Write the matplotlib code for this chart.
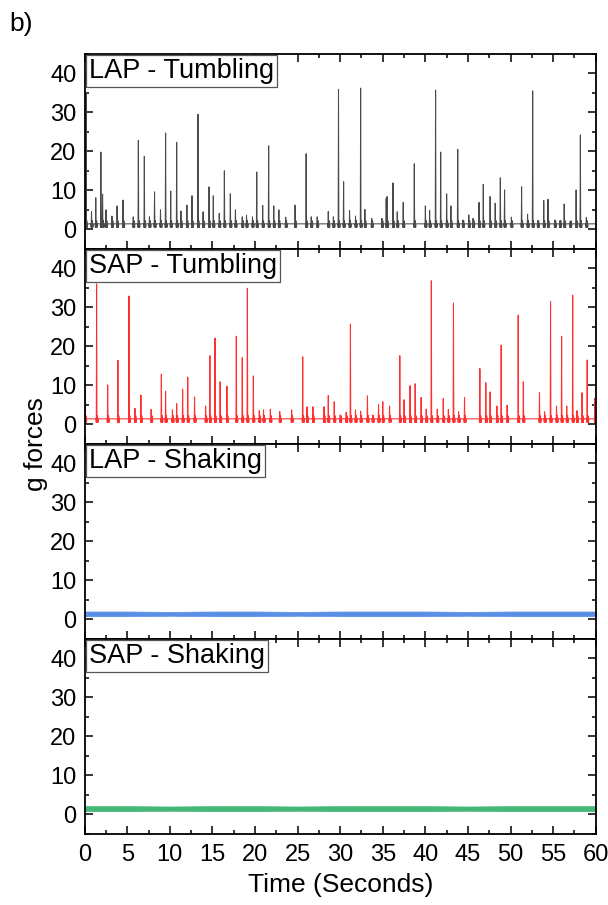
import matplotlib
matplotlib.use("Agg")
import matplotlib.pyplot as plt
from matplotlib.ticker import MultipleLocator

plt.rcParams['font.family'] = ['Liberation Sans', 'DejaVu Sans']

# ---------------- data ----------------
lap_tumble_t = [0.15, 0.8, 1.3, 1.9, 2.1, 2.5, 3.2, 3.8, 4.5, 5.7, 6.3, 7.0, 7.6, 8.2, 8.9,
                9.5, 10.1, 10.8, 11.3, 12.0, 12.6, 13.3, 13.9, 14.6, 15.1, 15.8, 16.4, 17.1,
                17.7, 18.5, 19.0, 19.7, 20.2, 20.9, 21.6, 22.2, 22.8, 23.6, 24.7, 26.0, 26.6,
                27.3, 28.6, 29.2, 29.8, 30.4, 31.1, 31.8, 32.4, 32.9, 33.7, 34.9, 35.4, 35.5,
                36.2, 36.7, 37.4, 38.7, 40.0, 40.5, 41.2, 41.8, 42.5, 43.0, 43.8, 44.4, 45.1,
                45.6, 46.3, 46.8, 47.6, 48.2, 48.8, 49.3, 50.1, 51.3, 52.0, 52.6, 53.2, 53.9,
                54.4, 55.2, 55.8, 56.3, 57.0, 57.7, 58.2, 58.9]
lap_tumble_g = [35.0, 4.5, 8.1, 19.8, 9.0, 5.0, 3.4, 6.0, 7.5, 3.2, 22.8, 18.7, 3.2, 9.6, 5.0,
                24.7, 9.8, 22.3, 4.7, 6.2, 8.6, 29.5, 4.5, 10.9, 8.6, 4.1, 15.0, 9.1,
                5.0, 3.2, 3.6, 3.2, 14.7, 6.1, 21.4, 6.0, 5.0, 3.1, 6.2, 19.4, 3.2,
                3.2, 4.6, 3.2, 35.9, 12.2, 4.8, 3.4, 36.2, 5.1, 2.8, 2.8, 7.9, 8.4,
                11.9, 4.5, 6.9, 16.8, 6.0, 4.8, 35.7, 19.8, 9.1, 6.0, 20.5, 2.4, 3.7,
                2.8, 6.9, 11.5, 8.4, 6.7, 13.2, 10.1, 3.1, 10.9, 3.9, 35.5, 2.2, 7.4,
                7.7, 2.4, 2.2, 6.5, 2.0, 10.1, 24.2, 3.0]

sap_tumble_t = [0.05, 1.4, 2.7, 3.9, 5.2, 5.9, 6.6, 7.8, 9.0, 9.5, 10.3, 10.8, 11.5, 12.1,
                12.9, 14.2, 14.7, 15.3, 15.9, 16.7, 17.8, 18.5, 19.1, 19.8, 20.5, 21.0, 21.8,
                22.9, 24.3, 25.6, 26.1, 26.8, 28.1, 28.6, 29.3, 30.0, 30.7, 31.2, 31.8, 32.4,
                33.2, 33.8, 34.5, 35.0, 35.8, 37.0, 37.5, 38.2, 38.8, 39.5, 40.1, 40.7, 41.4,
                42.1, 42.7, 43.3, 43.9, 44.6, 46.4, 47.1, 47.6, 48.4, 48.9, 49.6, 50.9, 51.5,
                53.4, 54.0, 54.7, 55.4, 56.0, 56.6, 57.3, 57.8, 58.4, 59.0, 59.9]
sap_tumble_g = [8.8, 36.0, 10.1, 16.4, 32.9, 4.1, 7.5, 3.8, 12.9, 8.5, 3.7, 5.3, 9.0, 12.1,
                7.0, 4.7, 17.6, 22.1, 10.9, 9.8, 22.6, 17.1, 34.9, 12.4, 3.5, 3.7, 3.9,
                3.3, 3.7, 17.3, 4.5, 4.5, 4.5, 7.4, 5.8, 2.4, 3.1, 25.7, 3.7, 3.4,
                7.3, 2.4, 5.1, 5.8, 4.7, 17.6, 6.3, 9.9, 10.4, 6.9, 3.9, 36.8, 3.9,
                6.6, 3.8, 31.1, 3.2, 6.9, 14.3, 10.7, 8.3, 4.7, 20.3, 4.9, 28.0, 10.9,
                8.1, 3.2, 31.5, 4.7, 22.6, 4.7, 33.1, 3.5, 8.1, 16.5, 6.7]

tumble_base = 1.4   # resting level of the tumbling traces (g)
tumble_low = 0.5    # small dip after each peak (g)
tumble_bump = 2.2   # small shoulder after each peak (g)

band_t = [0, 5, 10, 15, 20, 25, 30, 35, 40, 45, 50, 55, 60]
lap_shake_hi = [2.0, 2.0, 1.9, 2.0, 2.0, 1.9, 2.0, 2.0, 2.0, 1.9, 2.0, 2.0, 2.0]
lap_shake_lo = [0.8, 0.8, 0.9, 0.8, 0.8, 0.9, 0.8, 0.8, 0.8, 0.9, 0.8, 0.8, 0.8]
sap_shake_hi = [2.1, 2.1, 2.0, 2.1, 2.1, 2.0, 2.1, 2.1, 2.1, 2.0, 2.1, 2.1, 2.1]
sap_shake_lo = [0.8, 0.8, 0.9, 0.8, 0.8, 0.9, 0.8, 0.8, 0.8, 0.9, 0.8, 0.8, 0.8]

panel_titles = ["LAP - Tumbling", "SAP - Tumbling", "LAP - Shaking", "SAP - Shaking"]
x_ticks = [0, 5, 10, 15, 20, 25, 30, 35, 40, 45, 50, 55, 60]
y_ticks = [0, 10, 20, 30, 40]


def spike_trace(times, heights, base, low, bump, w=0.04):
    xs, ys = [0.0], [base]
    for t, h in zip(times, heights):
        xs += [t - 2 * w, t - w, t, t + w, t + 2.5 * w, t + 4 * w, t + 5 * w]
        ys += [base, low, h, low, bump, low, base]
    xs.append(60.0)
    ys.append(base)
    return xs, ys


W, H = 608, 905
fig = plt.figure(figsize=(W / 100, H / 100), dpi=100)

left_px, right_px = 84.7, 595.7
top_px, panel_h = 53.8, 195.0

axes = []
for i in range(4):
    top = top_px + panel_h * i
    ax = fig.add_axes([left_px / W, 1 - (top + panel_h) / H,
                       (right_px - left_px) / W, panel_h / H])
    axes.append(ax)

colors = ['#4a4a4a', '#ff3030', '#5a8fe6', '#45b878']

x, y = spike_trace(lap_tumble_t, lap_tumble_g, tumble_base, tumble_low, tumble_bump)
axes[0].plot(x, y, color=colors[0], lw=0.75)
x, y = spike_trace(sap_tumble_t, sap_tumble_g, tumble_base, tumble_low, tumble_bump)
axes[1].plot(x, y, color=colors[1], lw=0.75)
axes[2].fill_between(band_t, lap_shake_lo, lap_shake_hi, color=colors[2], lw=0.5)
axes[3].fill_between(band_t, sap_shake_lo, sap_shake_hi, color=colors[3], lw=0.5)

fs_tick = 17
fs_title = 19.5
for i, ax in enumerate(axes):
    ax.set_xlim(0, 60)
    ax.set_ylim(-5, 45)
    ax.set_xticks(x_ticks)
    ax.set_yticks(y_ticks)
    ax.xaxis.set_minor_locator(MultipleLocator(2.5))
    ax.yaxis.set_minor_locator(MultipleLocator(5))
    ax.tick_params(which='both', direction='in', top=True, right=True,
                   width=1.1, labelsize=fs_tick)
    ax.tick_params(which='major', length=5.5)
    ax.tick_params(which='minor', length=3)
    ax.tick_params(axis='y', pad=6)
    ax.tick_params(axis='x', pad=7)
    if i < 3:
        ax.tick_params(axis='x', labelbottom=False)
    for s in ax.spines.values():
        s.set_linewidth(1.3)
    pad = 0.12
    ax.annotate(panel_titles[i], xy=(0, 1), xycoords='axes fraction',
                xytext=(pad * fs_title + 0.6, -pad * fs_title - 0.6),
                textcoords='offset points',
                ha='left', va='top', fontsize=fs_title, color='black', zorder=5,
                bbox=dict(boxstyle='square,pad=%g' % pad, fc='white',
                          ec='#555555', lw=0.9))

fig.text(0.5 * (left_px + right_px) / W, 1 - 885 / H, 'Time (Seconds)',
         ha='center', va='center', fontsize=19)
fig.text(36 / W, 1 - (top_px + 2 * panel_h) / H, 'g forces', rotation=90,
         ha='center', va='center', fontsize=19)
fig.text(9 / W, 1 - 24 / H, 'b)', ha='left', va='center', fontsize=19)

fig.savefig('out.png', dpi=100)
